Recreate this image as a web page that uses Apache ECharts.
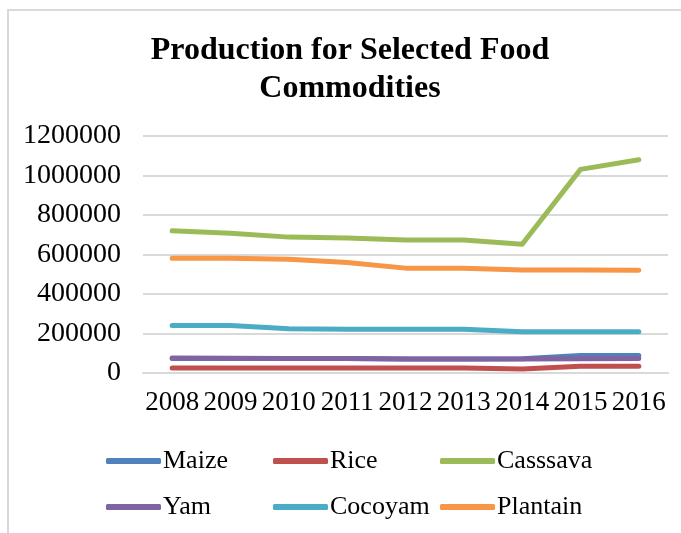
<!DOCTYPE html>
<html>
<head>
<meta charset="utf-8">
<script src="https://cdn.jsdelivr.net/npm/echarts@6/dist/echarts.min.js"></script>
<style>
  html, body { margin: 0; padding: 0; background: #fff; }
  #chart { width: 681px; height: 533px; }
</style>
</head>
<body>
<div id="chart"></div>
<script>
const years = ['2008', '2009', '2010', '2011', '2012', '2013', '2014', '2015', '2016'];
const maize = [74000, 74000, 73000, 73000, 71000, 71000, 72000, 88000, 88000];
const rice = [25000, 25000, 25000, 25000, 25000, 25000, 20000, 34000, 34000];
const cassava = [720000, 708000, 688000, 684000, 674000, 674000, 652000, 1031000, 1080000];
const yam = [76000, 75000, 73000, 73000, 71000, 71000, 71000, 72000, 73000];
const cocoyam = [241000, 241000, 224000, 221000, 221000, 221000, 209000, 209000, 209000];
const plantain = [581000, 581000, 576000, 560000, 531000, 531000, 521000, 521000, 520000];

const names = ['Maize', 'Rice', 'Casssava', 'Yam', 'Cocoyam', 'Plantain'];
const values = [maize, rice, cassava, yam, cocoyam, plantain];
const colors = ['#4F81BD', '#C0504D', '#9BBB59', '#8064A2', '#4BACC6', '#F79646'];

const font = '"Liberation Serif", "Times New Roman", serif';

function legendCol(left, items) {
  return {
    left: left,
    top: 443,
    orient: 'vertical',
    itemGap: 20,
    itemWidth: 55,
    itemHeight: 6,
    icon: 'roundRect',
    textStyle: { fontFamily: font, fontSize: 26, color: '#000', padding: [0, 0, 0, -3] },
    data: items
  };
}

const myChart = echarts.init(document.getElementById('chart'));
myChart.setOption({
  color: colors,
  animation: false,
  title: {
    text: 'Production for Selected Food\nCommodities',
    left: 345,
    top: 27,
    textAlign: 'center',
    textStyle: {
      fontFamily: font,
      fontSize: 32,
      fontWeight: 'bold',
      color: '#000',
      lineHeight: 38
    }
  },
  graphic: [{
    type: 'rect',
    shape: { x: 8, y: 10, width: 700, height: 560 },
    style: { fill: 'none', stroke: '#d9d9d9', lineWidth: 2 },
    silent: true
  }],
  legend: [
    legendCol(101, ['Maize', 'Yam']),
    legendCol(268, ['Rice', 'Cocoyam']),
    legendCol(435, ['Casssava', 'Plantain'])
  ],
  grid: { left: 143, right: 13, top: 136, bottom: 160 },
  xAxis: {
    type: 'category',
    data: years,
    boundaryGap: true,
    axisLine: { show: true, lineStyle: { color: '#d9d9d9', width: 2 } },
    axisTick: { show: false },
    axisLabel: { interval: 0, margin: 16, fontFamily: font, fontSize: 27, color: '#000' }
  },
  yAxis: {
    type: 'value',
    min: 0,
    max: 1200000,
    interval: 200000,
    axisLine: { show: false },
    axisTick: { show: false },
    axisLabel: {
      margin: 22, fontFamily: font, fontSize: 28, color: '#000',
      formatter: (v) => String(v)
    },
    splitLine: { lineStyle: { color: '#d9d9d9', width: 2 } }
  },
  series: names.map((n, i) => ({
    name: n,
    type: 'line',
    data: values[i],
    symbol: 'none',
    lineStyle: { width: 5, cap: 'round', join: 'round' }
  }))
});
</script>
</body>
</html>
